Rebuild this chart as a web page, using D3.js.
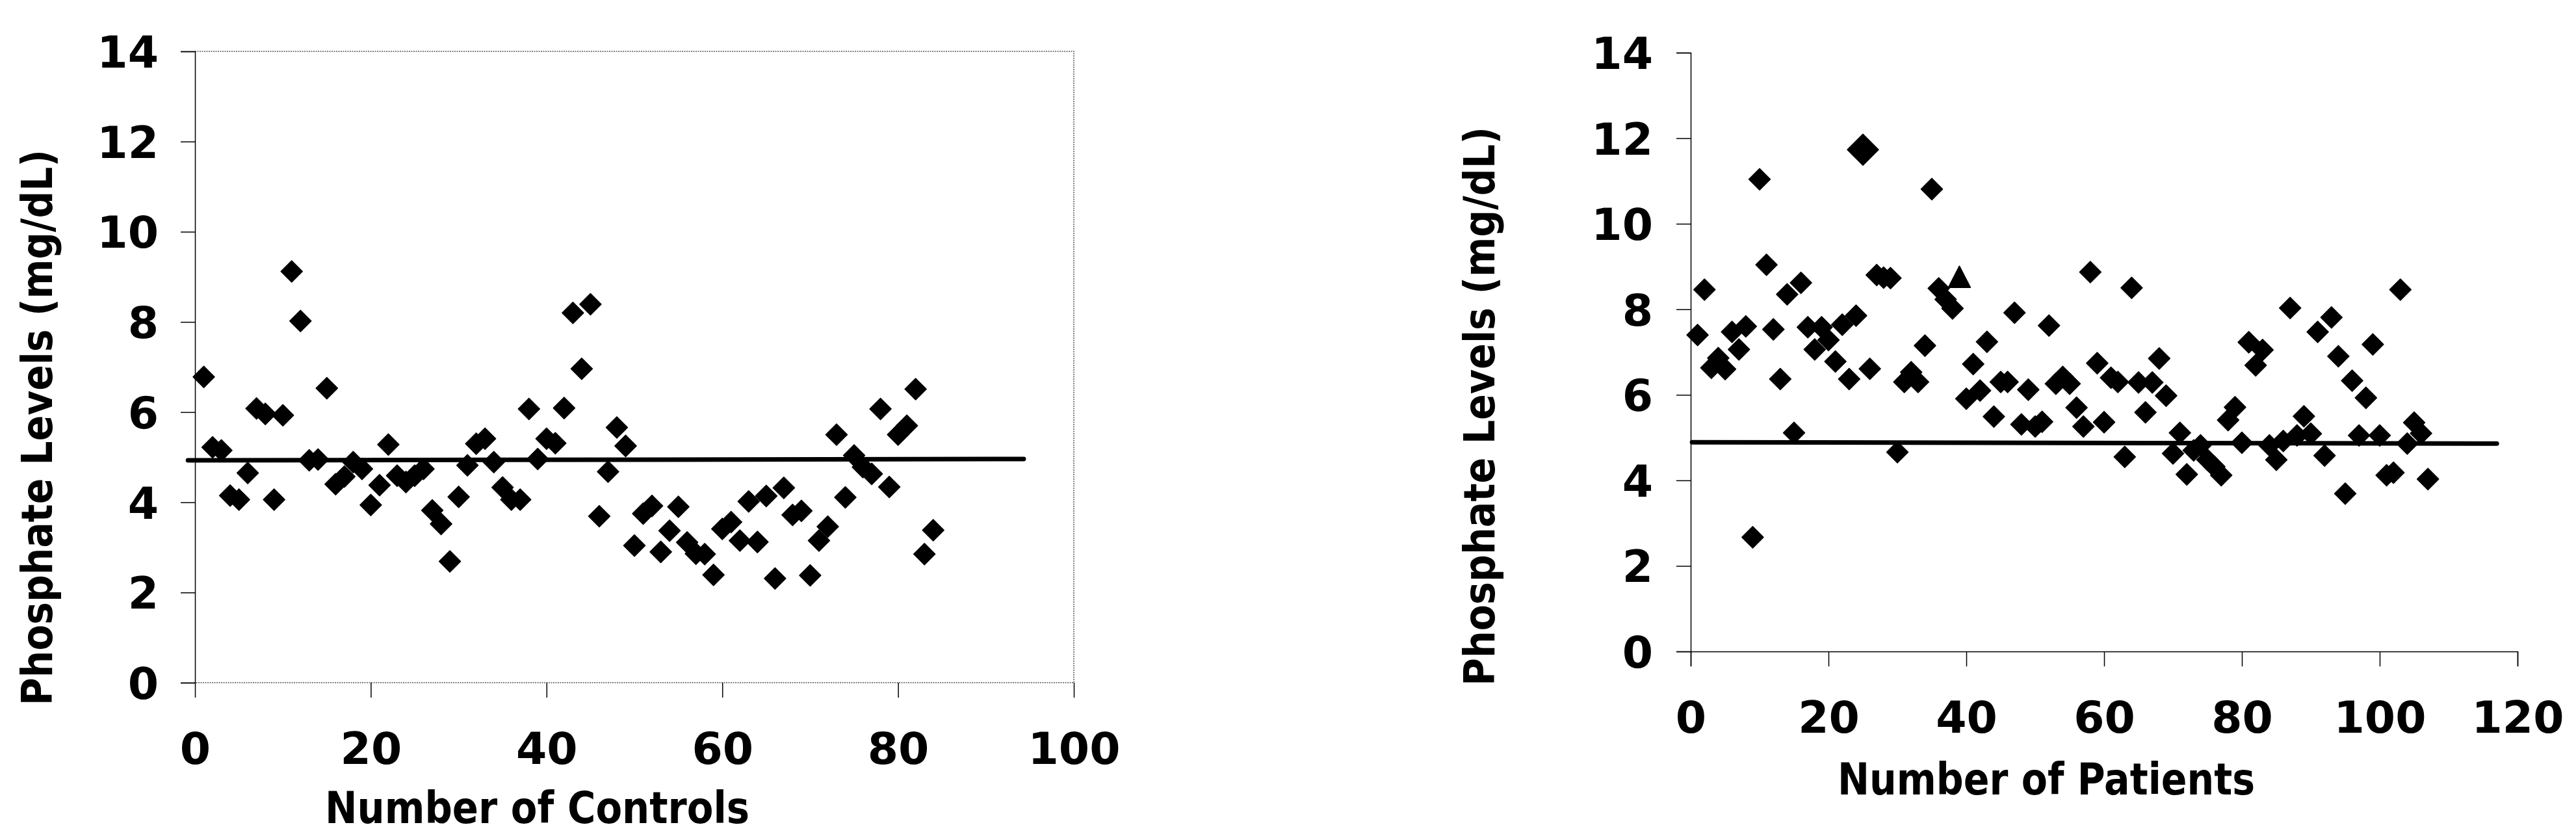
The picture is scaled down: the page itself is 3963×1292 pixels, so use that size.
<!DOCTYPE html>
<html><head><meta charset="utf-8">
<script src="https://cdn.jsdelivr.net/npm/d3@7"></script>
<style>html,body{margin:0;padding:0;background:#fff;} svg{display:block;background:#fff}</style>
</head><body>
<svg id="chart" width="3963" height="1292"></svg>
<script>
// ---------------- DATA ----------------
// Controls: phosphate level of each control (control number = position 1..84)
const controlValues = [
  6.78, 5.22, 5.15, 4.15, 4.06, 4.65, 6.08, 5.96, 4.06, 5.93,
  9.12, 8.02, 4.93, 4.95, 6.53, 4.40, 4.57, 4.89, 4.74, 3.94,
  4.38, 5.28, 4.59, 4.45, 4.59, 4.74, 3.82, 3.52, 2.69, 4.12,
  4.82, 5.30, 5.41, 4.89, 4.33, 4.06, 4.06, 6.07, 4.96, 5.41,
  5.31, 6.09, 8.20, 6.96, 8.39, 3.69, 4.68, 5.66, 5.25, 3.04,
  3.75, 3.92, 2.90, 3.37, 3.90, 3.11, 2.86, 2.85, 2.39, 3.41,
  3.56, 3.15, 4.02, 3.12, 4.14, 2.31, 4.32, 3.72, 3.81, 2.38,
  3.15, 3.46, 5.50, 4.11, 5.04, 4.78, 4.63, 6.07, 4.34, 5.50,
  5.70, 6.51, 2.85, 3.38
];
// Patients: phosphate level of each patient (patient number = position 1..107)
const patientValues = [
  7.40, 8.46, 6.63, 6.86, 6.60, 7.47, 7.06, 7.60, 2.67, 11.04,
  9.04, 7.53, 6.37, 8.35, 5.11, 8.62, 7.58, 7.06, 7.58, 7.28,
  6.78, 7.64, 6.37, 7.85, 11.73, 6.61, 8.80, 8.74, 8.73, 4.66,
  6.30, 6.53, 6.30, 7.15, 10.81, 8.49, 8.23, 8.02, 8.76, 5.91,
  6.72, 6.10, 7.24, 5.49, 6.30, 6.30, 7.92, 5.31, 6.12, 5.26,
  5.37, 7.62, 6.26, 6.42, 6.26, 5.70, 5.26, 8.87, 6.74, 5.36,
  6.40, 6.30, 4.55, 8.50, 6.29, 5.59, 6.29, 6.85, 5.98, 4.63,
  5.11, 4.14, 4.70, 4.82, 4.48, 4.32, 4.12, 5.41, 5.71, 4.88,
  7.23, 6.69, 7.05, 4.82, 4.48, 4.92, 8.03, 5.05, 5.50, 5.09,
  7.47, 4.58, 7.81, 6.90, 3.69, 6.33, 5.05, 5.93, 7.18, 5.05,
  4.12, 4.18, 8.46, 4.86, 5.35, 5.10, 4.03
];
// patient numbers drawn with a different marker
const patientLargeDiamond = [25];
const patientTriangle = [39];

// reference (mean) lines: [x, y] end points
const controlMeanLine = [[-0.8, 4.93], [94.3, 4.96]];
const patientMeanLine = [[0.2, 4.89], [117, 4.86]];

// tick labels
const yTicks = [0, 2, 4, 6, 8, 10, 12, 14];
const controlXTicks = [0, 20, 40, 60, 80, 100];
const patientXTicks = [0, 20, 40, 60, 80, 100, 120];

const yTitle = "Phosphate Levels (mg/dL)";
const controlXTitle = "Number of Controls";
const patientXTitle = "Number of Patients";

// ---------------- DRAWING ----------------
const svg = d3.select("#chart");
const TICK_FONT = "'DejaVu Sans', Verdana, sans-serif";
const TITLE_FONT = "'DejaVu Sans', Verdana, sans-serif";

function diamondPath(h) {
  return `M0,${-h}L${h},0L0,${h}L${-h},0Z`;
}
function trianglePath(w, h) {
  return `M0,${-h/2}L${w/2},${h/2}L${-w/2},${h/2}Z`;
}

function drawPanel(cfg) {
  const x = d3.scaleLinear().domain(cfg.xDomain).range([cfg.left, cfg.right]);
  const y = d3.scaleLinear().domain([0, 14]).range([cfg.bottom, cfg.top]);
  const g = svg.append("g");

  if (cfg.border) {
    g.append("path")
      .attr("d", `M${cfg.left},${cfg.top}H${cfg.right}V${cfg.bottom}H${cfg.left}`)
      .attr("fill", "none").attr("stroke", "#555").attr("stroke-width", 1.5)
      .attr("stroke-dasharray", "2,1.5");
  }

  // y axis
  const ya = g.append("g").attr("transform", `translate(${cfg.left},0)`)
    .call(d3.axisLeft(y).tickValues(yTicks).tickSize(22).tickPadding(cfg.yPad).tickFormat(d3.format("d")));
  ya.select(".domain").attr("stroke", "#000").attr("stroke-width", 1.5);
  ya.selectAll(".tick line").attr("stroke", "#000").attr("stroke-width", 1.5);
  ya.selectAll(".tick text").attr("font-family", TICK_FONT).attr("font-weight", "bold")
    .attr("font-size", 68).attr("fill", "#000").attr("dy", "0.36em");

  // x axis
  const xa = g.append("g").attr("transform", `translate(0,${cfg.bottom})`)
    .call(d3.axisBottom(x).tickValues(cfg.xTicks).tickSize(23).tickFormat(d3.format("d")));
  if (cfg.border) xa.select(".domain").remove();
  else xa.select(".domain").attr("stroke", "#000").attr("stroke-width", 1.5);
  xa.selectAll(".tick line").attr("stroke", "#000").attr("stroke-width", 1.5);
  xa.selectAll(".tick text").attr("font-family", TICK_FONT).attr("font-weight", "bold")
    .attr("font-size", 68).attr("fill", "#000").attr("y", 125).attr("dy", 0);

  // mean line
  g.append("path")
    .attr("d", d3.line().x(d => x(d[0])).y(d => y(d[1]))(cfg.mean))
    .attr("fill", "none").attr("stroke", "#000").attr("stroke-width", 7)
    .attr("stroke-linecap", "round");

  // markers
  const pts = cfg.values.map((v, i) => ({ n: i + 1, v }));
  g.append("g").selectAll("path").data(pts).join("path")
    .attr("transform", d => `translate(${x(d.n)},${y(d.v)})`)
    .attr("d", d => {
      if (cfg.triangle && cfg.triangle.includes(d.n)) return trianglePath(34, 33);
      if (cfg.large && cfg.large.includes(d.n)) return diamondPath(24);
      return diamondPath(16.5);
    })
    .attr("fill", "#000").attr("stroke", "#000").attr("stroke-width", 1.5)
    .attr("stroke-linejoin", "round");

  // x title
  g.append("text")
    .attr("x", cfg.xTitle.x).attr("y", cfg.xTitle.y)
    .attr("textLength", cfg.xTitle.len).attr("lengthAdjust", "spacingAndGlyphs")
    .attr("font-family", TITLE_FONT).attr("font-weight", "bold").attr("font-size", 67)
    .text(cfg.xTitle.text);

  // y title
  g.append("text")
    .attr("transform", `translate(${cfg.yTitle.x},${cfg.yTitle.y}) rotate(-90)`)
    .attr("textLength", cfg.yTitle.len).attr("lengthAdjust", "spacingAndGlyphs")
    .attr("font-family", TITLE_FONT).attr("font-weight", "bold").attr("font-size", 66)
    .text(yTitle);
}

drawPanel({
  xDomain: [0, 100], left: 300, right: 1652, top: 79, bottom: 1050,
  xTicks: controlXTicks, yPad: 34, border: true,
  values: controlValues, mean: controlMeanLine,
  xTitle: { text: controlXTitle, x: 500, y: 1266, len: 653 },
  yTitle: { x: 80, y: 1085, len: 855 }
});

drawPanel({
  xDomain: [0, 120], left: 2601, right: 3873, top: 81, bottom: 1002,
  xTicks: patientXTicks, yPad: 36, border: false,
  values: patientValues, mean: patientMeanLine,
  large: patientLargeDiamond, triangle: patientTriangle,
  xTitle: { text: patientXTitle, x: 2827, y: 1222, len: 642 },
  yTitle: { x: 2299, y: 1055, len: 860 }
});
</script>
</body></html>
